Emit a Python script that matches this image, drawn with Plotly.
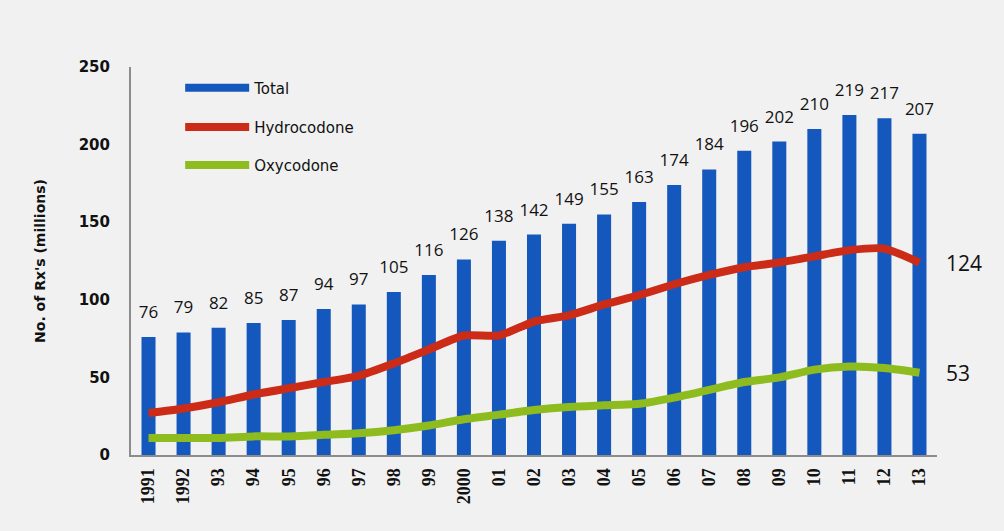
import plotly.graph_objects as go

years = ["1991", "1992", "93", "94", "95", "96", "97", "98", "99", "2000",
         "01", "02", "03", "04", "05", "06", "07", "08", "09", "10", "11", "12", "13"]
total = [76, 79, 82, 85, 87, 94, 97, 105, 116, 126, 138, 142, 149, 155, 163,
         174, 184, 196, 202, 210, 219, 217, 207]
hydrocodone = [27, 30, 34, 39, 43, 47, 51, 59, 68, 77, 77, 86, 90, 97, 103,
               110, 116, 121, 124, 128, 132, 133, 124]
oxycodone = [11, 11, 11, 12, 12, 13, 14, 16, 19, 23, 26, 29, 31, 32, 33,
             37, 42, 47, 50, 55, 57, 56, 53]
legend_names = ["Total", "Hydrocodone", "Oxycodone"]

BLUE = "#1558bd"
RED = "#cc2b18"
GREEN = "#8ebc1e"

fig = go.Figure()
fig.add_trace(go.Bar(
    x=years, y=total, width=0.4, marker=dict(color=BLUE, line=dict(width=0)),
    showlegend=False, name="Total"))
# value labels above the bars
fig.add_trace(go.Scatter(
    x=years, y=total, mode="markers+text", text=total, textposition="top center",
    marker=dict(size=22, opacity=0), cliponaxis=False, hoverinfo="skip",
    textfont=dict(family="Open Sans", size=17, color="#111"), showlegend=False))
fig.add_trace(go.Scatter(
    x=years, y=hydrocodone, mode="lines", name="Hydrocodone",
    line=dict(color=RED, width=8, shape="spline", smoothing=0.6), showlegend=False))
fig.add_trace(go.Scatter(
    x=years, y=oxycodone, mode="lines", name="Oxycodone",
    line=dict(color=GREEN, width=8, shape="spline", smoothing=0.6), showlegend=False))

# legend entries (line-style keys as in the original), each in its own legend
legend_ids = ["legend", "legend2", "legend3"]
for name, col, lid in zip(legend_names, [BLUE, RED, GREEN], legend_ids):
    fig.add_trace(go.Scatter(x=[None], y=[None], mode="lines", name=name,
                             line=dict(color=col, width=8), legend=lid))

# end labels
last = len(years) - 1
for series in (hydrocodone, oxycodone):
    fig.add_annotation(x=last, y=series[-1], text=str(series[-1]),
                       showarrow=False, xanchor="left", xshift=25,
                       font=dict(family="Open Sans", size=21, color="#111"))

leg_common = dict(x=0.061, xanchor="left", yanchor="middle",
                  bgcolor="rgba(0,0,0,0)", itemwidth=64,
                  font=dict(family="DejaVu Sans", size=15, color="#111"))

fig.update_layout(
    width=1004, height=531,
    paper_bgcolor="#f1f1f1", plot_bgcolor="#f1f1f1",
    margin=dict(l=131, r=67, t=67, b=76),
    bargap=0.6,
    legend=dict(y=0.946, **leg_common),
    legend2=dict(y=0.845, **leg_common),
    legend3=dict(y=0.747, **leg_common),
    xaxis=dict(
        type="category", range=[-0.5, 22.5], showgrid=False,
        showline=True, linecolor="#8c8c8c", linewidth=2,
        tickangle=-90, ticks="outside", ticklen=4, tickcolor="rgba(0,0,0,0)",
        tickfont=dict(family="Liberation Serif", size=18, color="#111", weight="bold")),
    yaxis=dict(
        range=[0, 250], dtick=50, showgrid=False, zeroline=False,
        showline=True, linecolor="#8c8c8c", linewidth=2,
        ticks="outside", ticklen=16, tickcolor="rgba(0,0,0,0)",
        tickfont=dict(family="DejaVu Sans", size=15, color="#111", weight="bold"),
        title=dict(text="No. of Rx's (millions)", standoff=30,
                   font=dict(family="DejaVu Sans", size=14, color="#111", weight="bold"))),
)

fig.write_html("out.html", config={"displayModeBar": False},
               post_script="document.body.style.margin='0px';"
                           "document.body.style.background='#f1f1f1';")
